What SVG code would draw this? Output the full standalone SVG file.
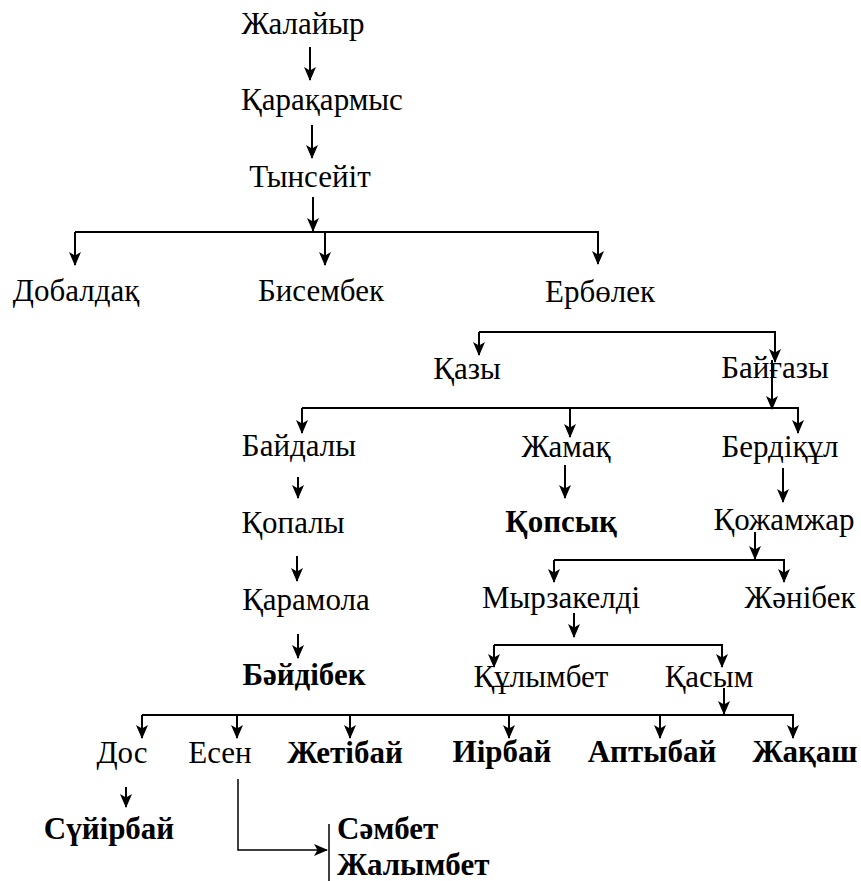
<svg xmlns="http://www.w3.org/2000/svg" width="861" height="881" viewBox="0 0 861 881">
<defs>
<marker id="ah" markerUnits="userSpaceOnUse" markerWidth="14" markerHeight="14" viewBox="0 0 14 12" refX="13" refY="6" orient="auto">
<path d="M0,0 L14,6 L0,12 L3.5,6 z" fill="#000"/>
</marker>
<style>
.nodes text{font-family:"Liberation Serif","Times New Roman",serif;font-size:31px;fill:#000;text-anchor:middle}
.nodes .b{font-weight:bold}
.nodes .s{text-anchor:start}
.c line,.c polyline{stroke:#000;stroke-width:2;fill:none}
.c .a{marker-end:url(#ah)}
.c .t{stroke-width:1.5}
</style>
</defs>
<rect width="861" height="881" fill="#fff"/>
<g class="c" id="connectors">
<line class="a" x1="310" y1="47" x2="310" y2="80"/>
<line class="a" x1="312" y1="125" x2="312" y2="158"/>
<line class="a" x1="313" y1="197" x2="313" y2="231"/>
<line x1="75" y1="232" x2="599" y2="232"/>
<line class="a" x1="75" y1="232" x2="75" y2="265"/>
<line class="a" x1="325" y1="232" x2="325" y2="265"/>
<line class="a" x1="598" y1="232" x2="598" y2="264"/>
<line x1="479" y1="332" x2="776" y2="332"/>
<line class="a" x1="479" y1="332" x2="479" y2="355"/>
<line class="a" x1="775" y1="332" x2="775" y2="362"/>
<line class="a" x1="772" y1="360" x2="772" y2="409"/>
<line x1="302" y1="408" x2="799" y2="408"/>
<line class="a" x1="302" y1="408" x2="302" y2="433"/>
<line class="a" x1="570" y1="408" x2="570" y2="437"/>
<line class="a" x1="798" y1="408" x2="798" y2="433"/>
<line class="a" x1="298" y1="477" x2="298" y2="498"/>
<line class="a" x1="565" y1="465" x2="565" y2="498"/>
<line class="a" x1="783" y1="468" x2="783" y2="502"/>
<line class="a" x1="297" y1="556" x2="297" y2="581"/>
<line class="a" x1="755" y1="532" x2="755" y2="559"/>
<line x1="554" y1="560" x2="785" y2="560"/>
<line class="a" x1="554" y1="560" x2="554" y2="582"/>
<line class="a" x1="784" y1="560" x2="784" y2="582"/>
<line class="a" x1="298" y1="634" x2="298" y2="658"/>
<line class="a" x1="574" y1="613" x2="574" y2="637"/>
<line x1="494" y1="645" x2="723" y2="645"/>
<line class="a" x1="494" y1="645" x2="494" y2="667"/>
<line class="a" x1="722" y1="645" x2="722" y2="667"/>
<line class="a" x1="724" y1="688" x2="724" y2="714"/>
<line x1="142" y1="715" x2="794" y2="715"/>
<line class="a" x1="142" y1="715" x2="142" y2="738"/>
<line class="a" x1="237" y1="715" x2="237" y2="738"/>
<line class="a" x1="350" y1="715" x2="350" y2="738"/>
<line class="a" x1="509" y1="715" x2="509" y2="738"/>
<line class="a" x1="660" y1="715" x2="660" y2="738"/>
<line class="a" x1="793" y1="715" x2="793" y2="738"/>
<line class="a" x1="126" y1="787" x2="126" y2="807"/>
<polyline class="a t" points="238,779 238,850 327,850"/>
<line class="t" x1="329" y1="824" x2="329" y2="881"/>
</g>
<g class="nodes">
<g id="n-zhalayir"><text x="303" y="34">Жалайыр</text></g>
<g id="n-karakarmys"><text x="322" y="110">Қарақармыс</text></g>
<g id="n-tynseyit"><text x="310" y="187">Тынсейіт</text></g>
<g id="n-dobaldak"><text x="76" y="301">Добалдақ</text></g>
<g id="n-bisembek"><text x="321" y="301">Бисембек</text></g>
<g id="n-erbolek"><text x="600" y="302">Ербөлек</text></g>
<g id="n-kazy"><text x="467" y="379">Қазы</text></g>
<g id="n-baygazy"><text x="775" y="378">Байғазы</text></g>
<g id="n-baydaly"><text x="299" y="456">Байдалы</text></g>
<g id="n-zhamak"><text x="566" y="457">Жамақ</text></g>
<g id="n-berdikul"><text x="780" y="457">Бердіқұл</text></g>
<g id="n-kopaly"><text x="293" y="533">Қопалы</text></g>
<g id="n-kopsyk"><text class="b" x="561" y="532">Қопсық</text></g>
<g id="n-kozhamzhar"><text x="784" y="530">Қожамжар</text></g>
<g id="n-karamola"><text x="306" y="610">Қарамола</text></g>
<g id="n-myrzakeldi"><text x="561" y="608">Мырзакелді</text></g>
<g id="n-zhanibek"><text x="800" y="608">Жәнібек</text></g>
<g id="n-baydibek"><text class="b" x="304" y="685">Бәйдібек</text></g>
<g id="n-kulymbet"><text x="541" y="687">Құлымбет</text></g>
<g id="n-kasym"><text x="709" y="687">Қасым</text></g>
<g id="n-dos"><text x="122" y="763">Дос</text></g>
<g id="n-esen"><text x="220" y="763">Есен</text></g>
<g id="n-zhetibay"><text class="b" x="345" y="763">Жетібай</text></g>
<g id="n-iirbay"><text class="b" x="502" y="762">Иірбай</text></g>
<g id="n-aptybay"><text class="b" x="652" y="762">Аптыбай</text></g>
<g id="n-zhakash"><text class="b" x="805" y="762">Жақаш</text></g>
<g id="n-suyirbay"><text class="b" x="109" y="839">Сүйірбай</text></g>
<g id="n-sambet"><text class="b s" x="337" y="839">Сәмбет</text></g>
<g id="n-zhalymbet"><text class="b s" x="337" y="875">Жалымбет</text></g>
</g>
</svg>
